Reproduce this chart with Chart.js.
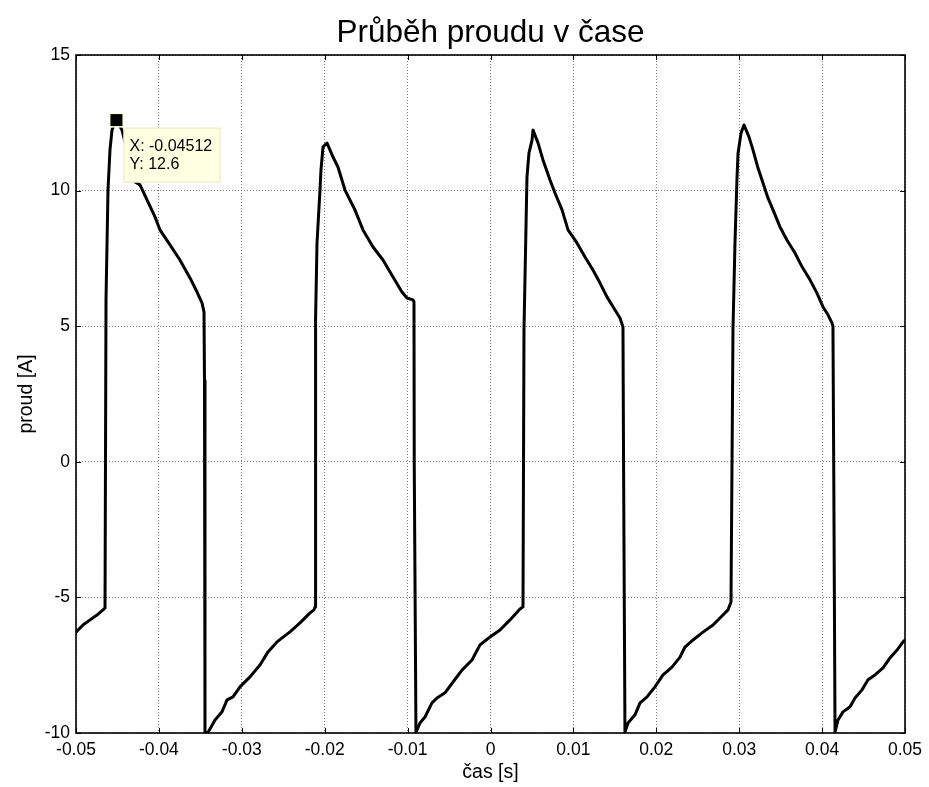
<!DOCTYPE html>
<html>
<head>
<meta charset="utf-8">
<script src="https://cdn.jsdelivr.net/npm/chart.js@4/dist/chart.umd.min.js"></script>
<style>
  html, body { margin: 0; padding: 0; background: #ffffff; }
  #wrap { width: 929px; height: 787px; }
</style>
</head>
<body>
<div id="wrap"><canvas id="c" width="929" height="787"></canvas></div>
<script>
// ---- data ----
const chartTitle = 'Průběh proudu v čase';
const xTitle = 'čas [s]';
const yTitle = 'proud [A]';

const xTicks = [-0.05, -0.04, -0.03, -0.02, -0.01, 0, 0.01, 0.02, 0.03, 0.04, 0.05];
const xTickLabels = ['-0.05', '-0.04', '-0.03', '-0.02', '-0.01', '0', '0.01', '0.02', '0.03', '0.04', '0.05'];
const yTicks = [-10, -5, 0, 5, 10, 15];
const yTickLabels = ['-10', '-5', '0', '5', '10', '15'];

// time [s]
const time = [
  -0.05, -0.04916, -0.04831, -0.04747, -0.04674, -0.0465,
  -0.04638, -0.04614, -0.0459, -0.04566, -0.0454, -0.04512,
  -0.04445, -0.04288, -0.04228, -0.04047, -0.03987, -0.03866, -0.03746, -0.03625, -0.0354, -0.0348, -0.03456,
  -0.0345, -0.03444,
  -0.03408, -0.03323, -0.03239, -0.03178, -0.03106, -0.03022, -0.02901, -0.02781, -0.02684, -0.02576, -0.02419, -0.02298, -0.02177, -0.02129, -0.02117,
  -0.0211, -0.02093, -0.02057, -0.02045, -0.0202, -0.01972,
  -0.019, -0.0184, -0.01755, -0.01634, -0.01538, -0.01417, -0.01297, -0.01176, -0.01068, -0.01007, -0.00935,
  -0.00923, -0.0092, -0.00899,
  -0.00851, -0.0079, -0.00706, -0.00645, -0.00549, -0.00452, -0.00344, -0.00223, -0.00127, -0.00006, 0.00115, 0.00235, 0.00356, 0.00392,
  0.00404, 0.00428, 0.0044, 0.00464, 0.00501, 0.00513,
  0.00573, 0.00633, 0.00718, 0.00778, 0.00863, 0.00935, 0.01043, 0.0114, 0.01236, 0.01321, 0.01405, 0.01502, 0.01562, 0.01598,
  0.01605, 0.01622,
  0.01659, 0.01743, 0.01804, 0.01888, 0.01984, 0.02081, 0.02189, 0.02286, 0.02346, 0.02443, 0.02563, 0.02684, 0.02768, 0.02865, 0.02901,
  0.02925, 0.02949, 0.02974, 0.02986, 0.03022, 0.03058,
  0.03118, 0.03166, 0.03227, 0.03287, 0.03347, 0.03408, 0.03492, 0.03576, 0.03673, 0.03758, 0.03854, 0.03938, 0.04011, 0.04071, 0.04119,
  0.04131, 0.0414, 0.04156,
  0.04192, 0.04252, 0.04337, 0.04397, 0.04481, 0.04554, 0.04638, 0.04735, 0.04819, 0.04904, 0.04976, 0.05
];
// current [A]
const current = [
  -6.28, -6.02, -5.83, -5.65, -5.46, -5.39,
  5.97, 10.02, 11.5, 12.23, 12.45, 12.6,
  12.23, 10.32, 10.21, 9.03, 8.55, 8.0, 7.44, 6.78, 6.26, 5.86, 5.53,
  3.0, -9.98,
  -9.98, -9.52, -9.22, -8.78, -8.67, -8.3, -7.93, -7.49, -7.01, -6.64, -6.27, -5.94, -5.57, -5.46, -5.35,
  5.23, 8.06, 10.02, 10.76, 11.61, 11.75,
  11.24, 10.87, 10.02, 9.28, 8.55, 7.92, 7.44, 6.81, 6.26, 6.04, 5.97,
  5.9, 0, -9.98,
  -9.63, -9.41, -8.89, -8.71, -8.52, -8.12, -7.68, -7.31, -6.75, -6.46, -6.2, -5.83, -5.43, -5.35,
  4.86, 8.65, 10.5, 11.38, 11.86, 12.23,
  11.76, 11.13, 10.39, 9.91, 9.29, 8.55, 8.07, 7.55, 7.07, 6.59, 6.08, 5.6, 5.3, 4.97,
  0, -9.96,
  -9.63, -9.33, -8.89, -8.67, -8.3, -7.86, -7.57, -7.2, -6.83, -6.57, -6.28, -6.02, -5.76, -5.46, -5.17,
  4.86, 8.07, 10.5, 11.38, 12.12, 12.42,
  11.98, 11.5, 10.83, 10.28, 9.73, 9.29, 8.66, 8.18, 7.7, 7.19, 6.71, 6.22, 5.71, 5.42, 5.12,
  5.0, 0, -9.96,
  -9.52, -9.22, -9.03, -8.71, -8.41, -8.04, -7.86, -7.6, -7.23, -6.94, -6.64, -6.57
];

// data tip shown in the reference
const tipX = -0.04512;
const tipY = 12.6;

// ---- chart ----
const FONT = "'Liberation Sans', Arial, sans-serif";
const points = time.map((t, i) => ({ x: t, y: current[i] }));

const boxPlugin = {
  id: 'matlabBox',
  afterDatasetsDraw(chart) {
    const { ctx, chartArea: a, scales } = chart;
    ctx.save();
    ctx.strokeStyle = '#000000';
    ctx.lineWidth = 1;
    const tl = 5;
    ctx.beginPath();
    xTicks.forEach(v => {
      const px = Math.round(scales.x.getPixelForValue(v)) + 0.5;
      ctx.moveTo(px, a.bottom); ctx.lineTo(px, a.bottom - tl);
      ctx.moveTo(px, a.top); ctx.lineTo(px, a.top + tl);
    });
    yTicks.forEach(v => {
      const py = Math.round(scales.y.getPixelForValue(v)) + 0.5;
      ctx.moveTo(a.left, py); ctx.lineTo(a.left + tl, py);
      ctx.moveTo(a.right, py); ctx.lineTo(a.right - tl, py);
    });
    ctx.stroke();
    ctx.lineWidth = 1.6;
    ctx.strokeRect(a.left, a.top, a.right - a.left, a.bottom - a.top);
    ctx.restore();
  },
  afterDraw(chart) {
    const { ctx, scales } = chart;
    const px = scales.x.getPixelForValue(tipX);
    const py = scales.y.getPixelForValue(tipY);
    ctx.save();
    ctx.fillStyle = '#FFFFE0';
    ctx.fillRect(px - 7.5, py - 7.5, 15, 15);
    ctx.fillStyle = '#000000';
    ctx.fillRect(px - 6, py - 6, 12, 12);
    const bx = px + 7, by = py + 7.5, bw = 97, bh = 55;
    ctx.fillStyle = '#FFFFE1';
    ctx.fillRect(bx, by, bw, bh);
    ctx.strokeStyle = '#E8E8C8';
    ctx.lineWidth = 1;
    ctx.strokeRect(bx + 0.5, by + 0.5, bw - 1, bh - 1);
    ctx.fillStyle = '#000000';
    ctx.font = '16px ' + FONT;
    ctx.textBaseline = 'alphabetic';
    ctx.textAlign = 'left';
    ctx.fillText('X: ' + tipX, bx + 6, by + 23);
    ctx.fillText('Y: ' + tipY, bx + 6, by + 41);
    ctx.restore();
  }
};

new Chart(document.getElementById('c'), {
  type: 'scatter',
  data: {
    datasets: [{
      data: points,
      showLine: true,
      borderColor: '#000000',
      backgroundColor: '#000000',
      borderWidth: 3,
      pointRadius: 0,
      tension: 0,
      borderJoinStyle: 'round',
      borderCapStyle: 'round'
    }]
  },
  options: {
    responsive: false,
    animation: false,
    devicePixelRatio: 1,
    layout: { padding: { top: 0, left: 0, right: 24, bottom: 0 } },
    plugins: {
      legend: { display: false },
      tooltip: { enabled: false },
      title: {
        display: true,
        fullSize: false,
        text: chartTitle,
        color: '#000000',
        font: { family: FONT, size: 31.5, weight: 'normal', lineHeight: 1.2 },
        padding: { top: 14, bottom: 3.2 }
      }
    },
    scales: {
      x: {
        type: 'linear',
        min: -0.05,
        max: 0.05,
        afterFit(scale) { scale.height = 54; },
        afterBuildTicks(scale) { scale.ticks = xTicks.map(v => ({ value: v })); },
        ticks: {
          color: '#000000',
          font: { family: FONT, size: 17.5 },
          padding: 6.5,
          maxRotation: 0,
          autoSkip: false,
          callback: (v) => { const i = xTicks.findIndex(t => Math.abs(t - v) < 1e-9); return i >= 0 ? xTickLabels[i] : ''; }
        },
        grid: { color: 'rgba(110,110,110,0.9)', lineWidth: 1, drawTicks: false },
        border: { display: false, dash: [1, 2] },
        title: {
          display: true, text: xTitle, color: '#000000',
          font: { family: FONT, size: 19.5, lineHeight: 1.2 },
          padding: { top: 0, bottom: 2.3 }
        }
      },
      y: {
        type: 'linear',
        min: -10,
        max: 15,
        afterFit(scale) { scale.width = 76; },
        afterBuildTicks(scale) { scale.ticks = yTicks.map(v => ({ value: v })); },
        ticks: {
          color: '#000000',
          font: { family: FONT, size: 17.5 },
          padding: 6,
          autoSkip: false,
          callback: (v) => { const i = yTicks.findIndex(t => Math.abs(t - v) < 1e-9); return i >= 0 ? yTickLabels[i] : ''; }
        },
        grid: { color: 'rgba(110,110,110,0.9)', lineWidth: 1, drawTicks: false },
        border: { display: false, dash: [1, 2] },
        title: {
          display: true, text: yTitle, color: '#000000',
          font: { family: FONT, size: 19.5, lineHeight: 1.2 },
          padding: { top: 15.3, bottom: 0 }
        }
      }
    }
  },
  plugins: [boxPlugin]
});
</script>
</body>
</html>
